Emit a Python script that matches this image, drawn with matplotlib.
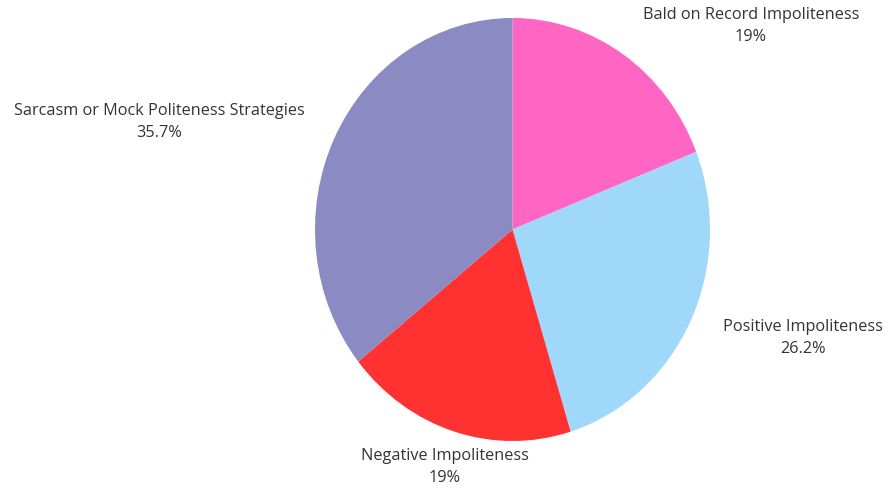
import matplotlib.pyplot as plt

labels = ["Bald on Record Impoliteness", "Positive Impoliteness",
          "Negative Impoliteness", "Sarcasm or Mock Politeness Strategies"]
values = [19, 26.2, 19, 35.7]
pct_text = ["19%", "26.2%", "19%", "35.7%"]
colors = ["#FF66C4", "#A0D8FA", "#FF3131", "#8B8AC2"]

# label anchor positions in pixel coords (x, y from top)
label_pos = [(751, 26), (803, 338), (445, 467), (159, 122)]

fig = plt.figure(figsize=(8.88, 4.88), dpi=100)
ax = fig.add_axes([0, 0, 1, 1])
ax.set_xlim(0, 888)
ax.set_ylim(488, 0)
ax.axis("off")

# pie drawn in its own axes; the original is slightly stretched vertically
cx, cy, rx, ry = 512.5, 229.5, 197.5, 211.5
pax = fig.add_axes([(cx - rx) / 888, 1 - (cy + ry) / 488, 2 * rx / 888, 2 * ry / 488])
pax.pie(values, colors=colors, startangle=90, counterclock=False,
        wedgeprops=dict(linewidth=0))
pax.set_xlim(-1, 1)
pax.set_ylim(-1, 1)
pax.set_aspect("auto")

for lab, p, (x, y) in zip(labels, pct_text, label_pos):
    ax.text(x, y, lab + "\n" + p, ha="center", va="center", fontsize=11.7,
            family="Open Sans", color="#333333", linespacing=1.45)

fig.savefig("out.png", dpi=100)
